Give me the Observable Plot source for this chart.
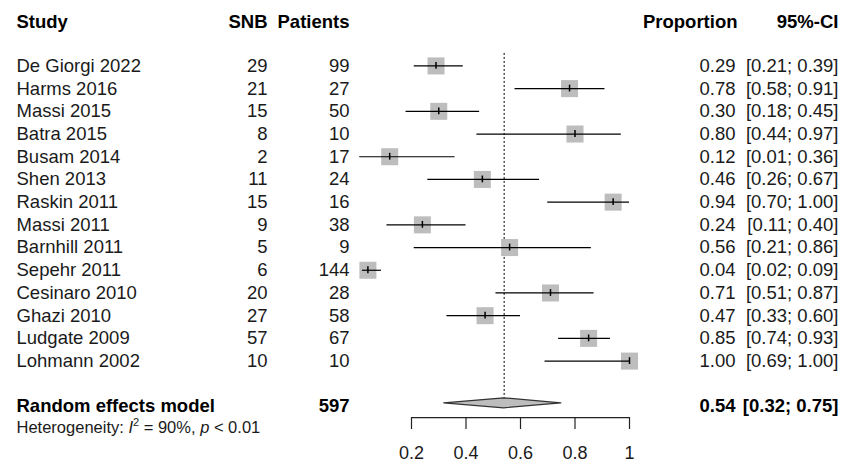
<!DOCTYPE html>
<html>
<head>
<meta charset="utf-8">
<script src="https://cdn.jsdelivr.net/npm/d3@7"></script>
<script src="https://cdn.jsdelivr.net/npm/@observablehq/plot@0.6"></script>
<style>
  html, body { margin: 0; padding: 0; background: #fff; }
  #chart svg { display: block; }
</style>
</head>
<body>
<div id="chart"></div>
<script>
const studies = ["De Giorgi 2022", "Harms 2016", "Massi 2015", "Batra 2015", "Busam 2014", "Shen 2013", "Raskin 2011", "Massi 2011", "Barnhill 2011", "Sepehr 2011", "Cesinaro 2010", "Ghazi 2010", "Ludgate 2009", "Lohmann 2002"];
const snb = [29, 21, 15, 8, 2, 11, 15, 9, 5, 6, 20, 27, 57, 10];
const patients = [99, 27, 50, 10, 17, 24, 16, 38, 9, 144, 28, 58, 67, 10];
const proportion = [0.29, 0.78, 0.30, 0.80, 0.12, 0.46, 0.94, 0.24, 0.56, 0.04, 0.71, 0.47, 0.85, 1.00];
const ciLow = [0.21, 0.58, 0.18, 0.44, 0.01, 0.26, 0.70, 0.11, 0.21, 0.02, 0.51, 0.33, 0.74, 0.69];
const ciHigh = [0.39, 0.91, 0.45, 0.97, 0.36, 0.67, 1.00, 0.40, 0.86, 0.09, 0.87, 0.60, 0.93, 1.00];

const pooledLabel = "Random effects model";
const pooledTotal = 597;
const pooledEstimate = [0.54];
const pooledLow = [0.32];
const pooledHigh = [0.75];
const heterogeneityI2 = "90%";
const heterogeneityP = "< 0.01";

const headers = ["Study", "SNB", "Patients", "Proportion", "95%-CI"];
const tickValues = [0.2, 0.4, 0.6, 0.8, 1];
const tickLabels = ["0.2", "0.4", "0.6", "0.8", "1"];

const rows = studies.map((s, i) => ({
  study: s, snb: snb[i], n: patients[i], p: proportion[i], lo: ciLow[i], hi: ciHigh[i], line: i + 2
}));
const fmt = v => v.toFixed(2);
const pooledLine = 17;
const diamondLine = 16.86;
const hetLine = 17.95;
const dh = 0.22;
const diamond = [
  {x: pooledLow[0], y1: diamondLine, y2: diamondLine},
  {x: pooledEstimate[0], y1: diamondLine - dh, y2: diamondLine + dh},
  {x: pooledHigh[0], y1: diamondLine, y2: diamondLine}
];

const font = "'Liberation Sans', Arial, Helvetica, sans-serif";
const ink = "#1a1a1a";
const fs = 18.5;
const xSNB = 267, xPat = 349, xProp = 735, xPropHead = 737, xCI = 838;

const col = (dx, text, extra = {}) => Plot.text(rows, {
  frameAnchor: "left", dx, y: "line", text, fontSize: fs, fill: ink, ...extra
});
const bold = (data, dx, y, text, anchor, extra = {}) => Plot.text(data, {
  frameAnchor: "left", dx, y, text, textAnchor: anchor, fontWeight: "bold", fontSize: fs, fill: "#000", ...extra
});

const chart = Plot.plot({
  width: 841,
  height: 464,
  marginTop: 0, marginLeft: 0, marginRight: 0, marginBottom: 47,
  x: {domain: [0, 1], range: [356.5, 629]},
  y: {domain: [0, 17], range: [20, 406], axis: null},
  style: {fontFamily: font, background: "white", color: ink},
  marks: [
    // headers
    bold([headers[0]], 16, 0, d => d, "start", {dy: 2}),
    bold([headers[1]], xSNB, 0, d => d, "end", {dy: 2}),
    bold([headers[2]], xPat, 0, d => d, "end", {dy: 2}),
    bold([headers[3]], xPropHead, 0, d => d, "end", {dy: 2}),
    bold([headers[4]], xCI, 0, d => d, "end", {dy: 2}),
    // study columns
    col(16, "study", {textAnchor: "start"}),
    col(xSNB, d => String(d.snb), {textAnchor: "end"}),
    col(xPat, d => String(d.n), {textAnchor: "end"}),
    col(xProp, d => fmt(d.p), {textAnchor: "end"}),
    col(xCI, d => `[${fmt(d.lo)}; ${fmt(d.hi)}]`, {textAnchor: "end"}),
    // pooled row text
    bold([pooledLabel], 16, pooledLine, d => d, "start"),
    bold([pooledTotal], xPat, pooledLine, d => String(d), "end"),
    bold(pooledEstimate, xProp, pooledLine, d => fmt(d), "end"),
    bold([0], xCI, pooledLine, () => `[${fmt(pooledLow[0])}; ${fmt(pooledHigh[0])}]`, "end"),
    Plot.text([0], {frameAnchor: "left", dx: 16, y: hetLine, text: () => "Heterogeneity", textAnchor: "start", fontSize: 16.5, fill: ink, className: "het"}),
    // reference dotted line
    Plot.ruleX(pooledEstimate, {y1: 1.45, y2: diamondLine - dh, stroke: "#000", strokeWidth: 1, strokeDasharray: "2,2"}),
    // squares
    Plot.dot(rows, {x: "p", y: "line", symbol: "square", r: 9.6, fill: "#bdbdbd", stroke: "none"}),
    // CI lines
    Plot.ruleY(rows, {y: "line", x1: "lo", x2: "hi", stroke: "#000", strokeWidth: 1.2}),
    // point ticks
    Plot.ruleX(rows, {x: "p", y1: d => d.line - 0.15, y2: d => d.line + 0.15, stroke: "#000", strokeWidth: 1.5}),
    // diamond
    Plot.areaY(diamond, {x: "x", y1: "y1", y2: "y2", fill: "#bdbdbd", stroke: "#333", strokeWidth: 1.2, curve: "linear"}),
    // axis
    Plot.ruleY([17.49], {x1: tickValues[0], x2: tickValues[tickValues.length - 1], stroke: "#222", strokeWidth: 1.2}),
    Plot.axisX(tickValues, {
      anchor: "bottom", tickSize: 12, tickPadding: 17, fontSize: 18, label: null,
      stroke: "#222", strokeWidth: 1.2, fill: ink,
      tickFormat: d => tickLabels[tickValues.indexOf(d)]
    })
  ]
});

// rich heterogeneity text (italic I and p, superscript 2)
d3.select(chart).selectAll(".het text").each(function() {
  this.innerHTML = `Heterogeneity: <tspan font-style="italic">I</tspan><tspan dy="-7" font-size="11">2</tspan><tspan dy="7"> = ${heterogeneityI2}, </tspan><tspan font-style="italic">p</tspan> ${heterogeneityP.replace("<", "&lt;")}`;
});

document.getElementById("chart").appendChild(chart);
</script>
</body>
</html>
